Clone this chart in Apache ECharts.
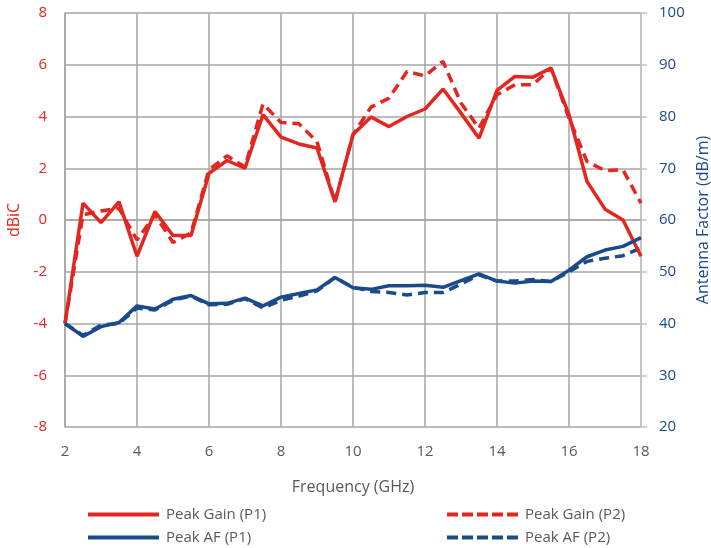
<!DOCTYPE html>
<html><head><meta charset="utf-8">
<script src="https://cdn.jsdelivr.net/npm/echarts@6/dist/echarts.min.js"></script>
<style>html,body{margin:0;padding:0;background:#fff}#c{width:711px;height:548px}</style>
</head><body><div id="c"></div>
<script>
const freq = [2,2.5,3,3.5,4,4.5,5,5.5,6,6.5,7,7.5,8,8.5,9,9.5,10,10.5,11,11.5,12,12.5,13,13.5,14,14.5,15,15.5,16,16.5,17,17.5,18];
const gainP1 = [-4,0.65,-0.1,0.7,-1.4,0.33,-0.6,-0.6,1.8,2.3,2.0,4.07,3.2,2.94,2.78,0.7,3.3,3.98,3.61,4.0,4.29,5.06,4.13,3.16,5.01,5.55,5.52,5.87,4.07,1.49,0.42,0.0,-1.4];
const gainP2 = [-4,0.2,0.35,0.45,-0.77,0.2,-0.87,-0.5,1.94,2.48,2.05,4.49,3.77,3.72,3.03,0.7,3.3,4.36,4.71,5.74,5.57,6.13,4.52,3.55,4.84,5.23,5.23,5.87,3.94,2.26,1.91,1.94,0.65];
const afP1 = [40,37.5,39.4,40.2,43.4,42.8,44.7,45.4,43.8,43.9,44.9,43.4,45.1,45.8,46.5,48.9,46.9,46.6,47.3,47.3,47.4,47.0,48.3,49.6,48.2,47.8,48.2,48.1,50.3,52.9,54.2,54.9,56.6];
const afP2 = [40,37.7,39.7,40.0,43.0,42.6,44.5,45.3,43.6,43.7,44.8,43.0,44.5,45.3,46.3,48.9,47.0,46.2,46.0,45.5,46.0,46.0,47.6,49.4,48.2,48.2,48.5,48.1,50.0,52.0,52.6,53.1,54.6];
const seriesNames = ['Peak Gain (P1)','Peak Gain (P2)','Peak AF (P1)','Peak AF (P2)'];

const RED = '#e3261f', BLUE = '#1b4a8a', TXT = '#595959', GRID = '#a6a6a6';
const FONT = 'Open Sans';
const SOLID_ICON = 'path://M0,0H71V4H0Z';
const DASH_ICON = 'path://M0,0H11V4H0Z M15,0H26V4H15Z M30,0H41V4H30Z M45,0H56V4H45Z M60,0H71V4H60Z';
const pairs = arr => freq.map((f,i)=>[f,arr[i]]);
const chart = echarts.init(document.getElementById('c'), null, {renderer:'canvas'});
const leg = (name, icon, left, top) => ({
  data:[{name:name, icon:icon}], left:left, top:top, itemWidth:71, itemHeight:4, itemGap:0,
  symbolKeepAspect:false, padding:0,
  textStyle:{color:TXT, fontFamily:FONT, fontSize:15, padding:[0,0,0,2]}
});
chart.setOption({
  animation:false,
  textStyle:{fontFamily:FONT},
  grid:{left:65, right:70, top:13, bottom:121, containLabel:false, outerBoundsMode:'none'},
  legend:[
    leg(seriesNames[0], SOLID_ICON, 88, 507),
    leg(seriesNames[1], DASH_ICON, 447, 507),
    leg(seriesNames[2], SOLID_ICON, 88, 530),
    leg(seriesNames[3], DASH_ICON, 447, 530)
  ],
  xAxis:{
    type:'value', min:2, max:18, interval:2,
    name:'Frequency (GHz)', nameLocation:'middle', nameGap:52,
    nameTextStyle:{color:TXT, fontSize:16, fontFamily:FONT},
    axisLine:{show:true, lineStyle:{color:GRID, width:1.5}},
    axisTick:{show:false},
    axisLabel:{color:TXT, fontSize:15, margin:17, fontFamily:FONT},
    splitLine:{show:true, lineStyle:{color:GRID, width:1.5}}
  },
  yAxis:[
    {type:'value', min:-8, max:8, interval:2, position:'left',
     name:'dBiC', nameLocation:'middle', nameGap:41, nameRotate:90,
     nameTextStyle:{color:RED, fontSize:16, fontFamily:FONT},
     axisLine:{show:true, lineStyle:{color:GRID, width:1.5}},
     axisTick:{show:false},
     axisLabel:{color:RED, fontSize:15, margin:18, fontFamily:FONT},
     splitLine:{show:true, lineStyle:{color:GRID, width:1.5}}},
    {type:'value', min:20, max:100, interval:10, position:'right',
     name:'Antenna Factor (dB/m)', nameLocation:'middle', nameGap:52, nameRotate:90,
     nameTextStyle:{color:BLUE, fontSize:16, fontFamily:FONT},
     axisLine:{show:true, lineStyle:{color:'#c4c4c4', width:2}},
     axisTick:{show:true, length:6, lineStyle:{color:'#c4c4c4', width:1.5}},
     axisLabel:{color:BLUE, fontSize:15, margin:18, fontFamily:FONT},
     splitLine:{show:false}}
  ],
  series:[
    {name:seriesNames[1], type:'line', yAxisIndex:0, data:pairs(gainP2), symbol:'none', z:3,
     lineStyle:{color:RED, width:3.5, type:[10,6]}, itemStyle:{color:RED}},
    {name:seriesNames[0], type:'line', yAxisIndex:0, data:pairs(gainP1), symbol:'none', z:4,
     lineStyle:{color:RED, width:3.5}, itemStyle:{color:RED}},
    {name:seriesNames[3], type:'line', yAxisIndex:1, data:pairs(afP2), symbol:'none', z:3,
     lineStyle:{color:BLUE, width:3.5, type:[10,6]}, itemStyle:{color:BLUE}},
    {name:seriesNames[2], type:'line', yAxisIndex:1, data:pairs(afP1), symbol:'none', z:4,
     lineStyle:{color:BLUE, width:3.5}, itemStyle:{color:BLUE}}
  ]
});
</script></body></html>
